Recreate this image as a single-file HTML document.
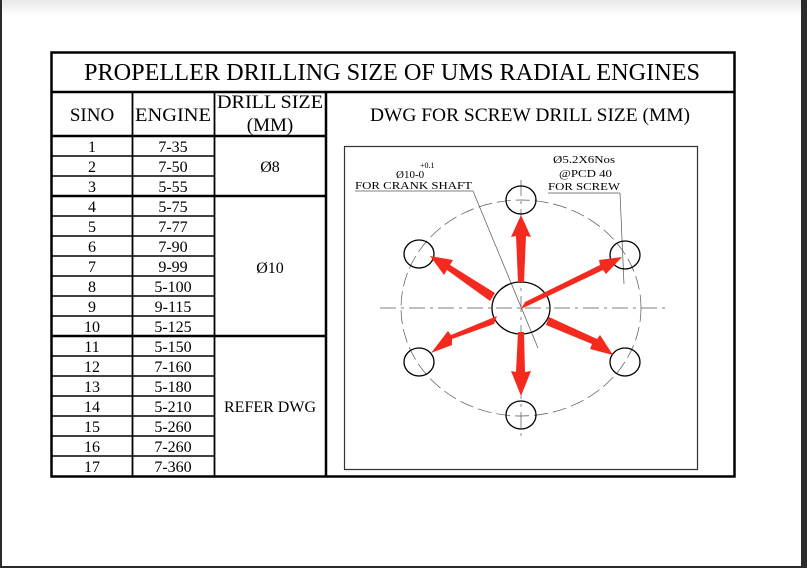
<!DOCTYPE html>
<html><head><meta charset="utf-8"><style>
html,body{margin:0;padding:0;background:#fff}
svg{display:block}
text{font-family:"Liberation Serif","Times New Roman",serif;fill:#000}
</style></head><body>
<svg width="807" height="568" viewBox="0 0 807 568" xmlns="http://www.w3.org/2000/svg" font-family="Liberation Serif, serif">
<defs><linearGradient id="g" x1="0" y1="0" x2="0" y2="1"><stop offset="0" stop-color="#e8e8e8"/><stop offset="1" stop-color="#fff"/></linearGradient></defs>
<rect width="807" height="568" fill="#fff"/>
<rect width="807" height="16" fill="url(#g)"/>
<rect x="0" y="0" width="2" height="568" fill="#2b2b2b"/>
<rect x="801" y="0" width="6" height="568" fill="#2b2b2b"/>
<rect x="0" y="566" width="807" height="2" fill="#2b2b2b"/>

<g stroke="#000" fill="none">
<rect x="51.5" y="52.5" width="683" height="424" stroke-width="2.5"/>
<line x1="51" y1="92" x2="735" y2="92" stroke-width="2.5"/>
<line x1="51" y1="136" x2="326" y2="136" stroke-width="2.5"/>
<line x1="132.5" y1="92" x2="132.5" y2="477" stroke-width="1.8"/>
<line x1="214.5" y1="92" x2="214.5" y2="477" stroke-width="1.8"/>
<line x1="326" y1="92" x2="326" y2="477" stroke-width="2.5"/>
<line x1="51" y1="196" x2="326" y2="196" stroke-width="2.5"/>
<line x1="51" y1="336" x2="326" y2="336" stroke-width="2.5"/>
<g stroke-width="1.5">
<line x1="51" y1="156" x2="214" y2="156"/><line x1="51" y1="176" x2="214" y2="176"/>
<line x1="51" y1="216" x2="214" y2="216"/><line x1="51" y1="236" x2="214" y2="236"/>
<line x1="51" y1="256" x2="214" y2="256"/><line x1="51" y1="276" x2="214" y2="276"/>
<line x1="51" y1="296" x2="214" y2="296"/><line x1="51" y1="316" x2="214" y2="316"/>
<line x1="51" y1="356" x2="214" y2="356"/><line x1="51" y1="376" x2="214" y2="376"/>
<line x1="51" y1="396" x2="214" y2="396"/><line x1="51" y1="416" x2="214" y2="416"/>
<line x1="51" y1="436" x2="214" y2="436"/><line x1="51" y1="456" x2="214" y2="456"/>
</g>
</g>

<text x="392" y="80" font-size="24" text-anchor="middle" textLength="616" lengthAdjust="spacingAndGlyphs">PROPELLER DRILLING SIZE OF UMS RADIAL ENGINES</text>
<g font-size="19" text-anchor="middle">
<text x="92" y="121">SINO</text>
<text x="173" y="121" textLength="76" lengthAdjust="spacingAndGlyphs">ENGINE</text>
<text x="270" y="108" textLength="106" lengthAdjust="spacingAndGlyphs">DRILL SIZE</text>
<text x="270" y="131">(MM)</text>
<text x="530" y="121" textLength="320" lengthAdjust="spacingAndGlyphs">DWG FOR SCREW DRILL SIZE (MM)</text>
</g>
<g font-size="16" text-anchor="middle">
<text x="92" y="152">1</text><text x="173" y="152">7-35</text>
<text x="92" y="172">2</text><text x="173" y="172">7-50</text>
<text x="92" y="192">3</text><text x="173" y="192">5-55</text>
<text x="92" y="212">4</text><text x="173" y="212">5-75</text>
<text x="92" y="232">5</text><text x="173" y="232">7-77</text>
<text x="92" y="252">6</text><text x="173" y="252">7-90</text>
<text x="92" y="272">7</text><text x="173" y="272">9-99</text>
<text x="92" y="292">8</text><text x="173" y="292">5-100</text>
<text x="92" y="312">9</text><text x="173" y="312">9-115</text>
<text x="92" y="332">10</text><text x="173" y="332">5-125</text>
<text x="92" y="352">11</text><text x="173" y="352">5-150</text>
<text x="92" y="372">12</text><text x="173" y="372">7-160</text>
<text x="92" y="392">13</text><text x="173" y="392">5-180</text>
<text x="92" y="412">14</text><text x="173" y="412">5-210</text>
<text x="92" y="432">15</text><text x="173" y="432">5-260</text>
<text x="92" y="452">16</text><text x="173" y="452">7-260</text>
<text x="92" y="472">17</text><text x="173" y="472">7-360</text>
<text x="270" y="172">Ø8</text>
<text x="270" y="273">Ø10</text>
<text x="270" y="412">REFER DWG</text>
</g>

<rect x="344.5" y="146.5" width="353" height="323" fill="none" stroke="#333" stroke-width="1.2"/>
<g fill="none" stroke="#555" stroke-width="0.7">
<ellipse cx="521" cy="308" rx="120" ry="108" stroke-dasharray="14,5"/>
<line x1="380" y1="308" x2="666" y2="308" stroke-dasharray="16,5,3,5"/>
<line x1="521" y1="180" x2="521" y2="438" stroke-dasharray="16,5,3,5"/>
<line x1="473" y1="191" x2="538" y2="348"/>
<line x1="473" y1="191" x2="355" y2="191"/>
<line x1="620" y1="193" x2="548" y2="193"/>
<line x1="620" y1="193" x2="624" y2="284"/>
</g>
<g fill="none" stroke="#000" stroke-width="1.3">
<ellipse cx="521" cy="308" rx="29" ry="26"/>
<ellipse cx="521" cy="200" rx="15" ry="14"/>
<ellipse cx="419" cy="254" rx="15" ry="14"/>
<ellipse cx="625" cy="255" rx="15" ry="14"/>
<ellipse cx="419" cy="362" rx="15" ry="14"/>
<ellipse cx="625" cy="362" rx="15" ry="14"/>
<ellipse cx="521" cy="415" rx="15" ry="14"/>
</g>
<g fill="#f52a1f" stroke="none">
<polygon points="518,282 524,282 526,236 531,237 521,215 511,237 516,236"/>
<polygon points="518,332 524,332 525,372 531,371 521,396 511,371 516,372"/>
<polygon points="495,293 490,301 447,270 444,275 430,256 453,260 450,265"/>
<polygon points="521,309 525,302 600,265 599,260 622,257 606,274 603,270"/>
<polygon points="497,316 494,324 452,339 452,345 431,353 448,331 451,335"/>
<polygon points="549,317 546,325 592,344 590,349 613,355 600,335 597,339"/>
</g>
<g font-size="11">
<text x="420" y="168" font-size="8">+0.1</text>
<text x="396" y="178">Ø10-0</text>
<text x="355" y="189" textLength="117" lengthAdjust="spacingAndGlyphs">FOR CRANK SHAFT</text>
<text x="553" y="163" textLength="62" lengthAdjust="spacingAndGlyphs">Ø5.2X6Nos</text>
<text x="559" y="177" textLength="53" lengthAdjust="spacingAndGlyphs">@PCD 40</text>
<text x="548" y="190" textLength="72" lengthAdjust="spacingAndGlyphs">FOR SCREW</text>
</g>
</svg>
</body></html>
